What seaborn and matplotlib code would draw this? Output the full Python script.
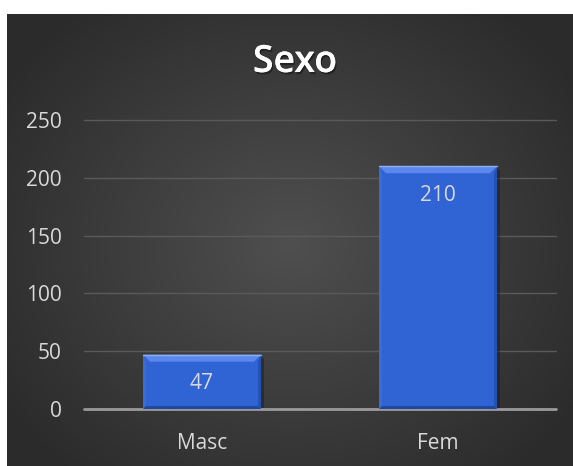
import numpy as np
import pandas as pd
import matplotlib
matplotlib.use("Agg")
import matplotlib.pyplot as plt
import matplotlib.patheffects as pe
from matplotlib.patches import Polygon
import seaborn as sns

categories = ["Masc", "Fem"]
values = [47, 210]
yticks = [0, 50, 100, 150, 200, 250]
title = "Sexo"

sns.set_theme(style="white")
plt.rcParams["font.family"] = ["Open Sans", "DejaVu Sans"]

W, H = 573, 466
fig = plt.figure(figsize=(W / 100, H / 100), dpi=100)
fig.patch.set_facecolor("white")

# dark radial gradient panel
bg = fig.add_axes([7 / W, 0, 1 - 7 / W, 1 - 14 / H])
bg.set_axis_off()
yy, xx = np.mgrid[0:452, 0:566]
cx, cy = 283, 230
r = np.sqrt(((xx - cx) / 340.0) ** 2 + ((yy - cy) / 300.0) ** 2)
r = np.clip(r, 0, 1)
c0, c1 = 0.31, 0.17
val = c0 + (c1 - c0) * r
img = np.dstack([val, val, val])
bg.imshow(img, aspect="auto", extent=[0, 1, 0, 1], interpolation="bilinear")
bg.set_xlim(0, 1)
bg.set_ylim(0, 1)

ax = fig.add_axes([84 / W, 57 / H, (556 - 84) / W, (409 - 120) / H])
ax.set_facecolor("none")
df = pd.DataFrame({"cat": categories, "val": values})
sns.barplot(data=df, x="cat", y="val", ax=ax, color="#3064D4", width=0.5,
            saturation=1, edgecolor="none", zorder=3)
ax.set_xlim(-0.5, len(categories) - 0.5)
ax.set_ylim(0, 250)
ax.set_yticks(yticks)
ax.set_xlabel("")
ax.set_ylabel("")
for s in ax.spines.values():
    s.set_visible(False)
ax.yaxis.grid(True, color="#5a5a5a", linewidth=1)
for gl in ax.get_ygridlines():
    gl.set_clip_on(False)
ax.set_axisbelow(True)
ax.axhline(0, color="#9a9a9a", linewidth=2, zorder=4, clip_on=False)
ax.tick_params(axis="both", length=0, labelcolor="#d9d9d9", labelsize=15)
ax.tick_params(axis="y", pad=16)
ax.tick_params(axis="x", pad=17)

# bevel on bars derived from patch geometry
fig.canvas.draw()
to_px = ax.transData
inv = ax.transData.inverted()
for p, v in zip(ax.patches, values):
    x0, w, h = p.get_x(), p.get_width(), p.get_height()
    (px0, py0) = to_px.transform((x0, 0))
    (px1, py1) = to_px.transform((x0 + w, h))
    b = 7
    s = 3
    def d(pts):
        return inv.transform(pts)
    top = d([(px0, py1), (px1, py1), (px1 - b, py1 - b), (px0 + b, py1 - b)])
    ax.add_patch(Polygon(top, closed=True, facecolor="#5a88ec", edgecolor="none", zorder=4))
    left = d([(px0, py1), (px0 + s, py1 - b), (px0 + s, py0 + s), (px0, py0)])
    ax.add_patch(Polygon(left, closed=True, facecolor="#3a6cd8", edgecolor="none", zorder=4))
    right = d([(px1, py1), (px1 - s, py1 - b), (px1 - s, py0 + s), (px1, py0)])
    ax.add_patch(Polygon(right, closed=True, facecolor="#2452b4", edgecolor="none", zorder=4))
    bot = d([(px0, py0), (px1, py0), (px1 - s, py0 + s), (px0 + s, py0 + s)])
    ax.add_patch(Polygon(bot, closed=True, facecolor="#1f48a0", edgecolor="none", zorder=4))
    hl = d([(px0, py1), (px1, py1)])
    ax.plot(hl[:, 0], hl[:, 1], color="#8fb0f2", linewidth=1, zorder=5)
    # shadow
    sh = d([(px1, py1 - 2), (px1 + 3, py1 - 4), (px1 + 3, py0), (px1, py0)])
    ax.add_patch(Polygon(sh, closed=True, facecolor="#1e1e1e", alpha=0.5, edgecolor="none", zorder=2))
    lbl_y = inv.transform((0, py1 - 29))[1]
    ax.text(x0 + w / 2, lbl_y, str(v), ha="center", va="center",
            color="#d9d9d9", fontsize=15, zorder=6)

fig.text(295 / W, 1 - 62 / H, title, ha="center", va="center", color="white",
         fontsize=27, fontweight="semibold",
         path_effects=[pe.withSimplePatchShadow(offset=(1, -1.5), shadow_rgbFace="black", alpha=0.4),
                       pe.Normal()])

fig.savefig("out.png", dpi=100)
